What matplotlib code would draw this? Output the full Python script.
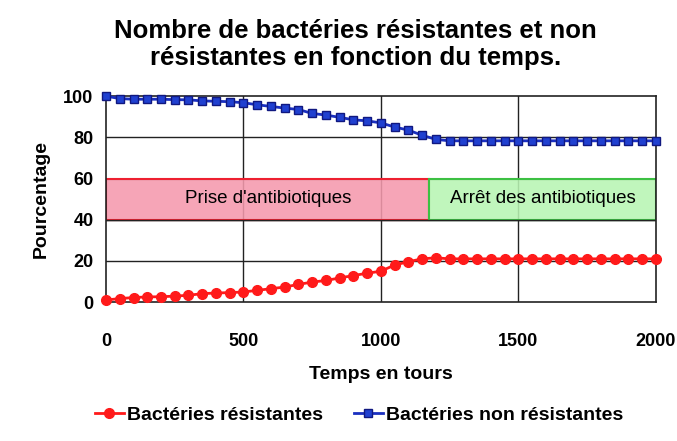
import matplotlib
matplotlib.use("Agg")
import matplotlib.pyplot as plt
from matplotlib.patches import Rectangle

plt.rcParams['font.family'] = ['Liberation Sans', 'DejaVu Sans']

# ---- data ----
temps = list(range(0, 2001, 50))
resistantes = [1, 1.7, 2.2, 2.5, 2.6, 2.9, 3.3, 4.1, 4.4, 4.6, 4.9, 5.7, 6.5, 7.3, 8.6,
               9.7, 10.5, 11.7, 12.9, 14, 15, 18, 19.6, 21, 21.5] + [21] * 16
non_resistantes = [100, 98.8, 98.5, 98.5, 98.5, 98.3, 98.2, 97.7, 97.5, 97.3, 96.8, 95.8,
                   95, 94.2, 93.5, 91.6, 90.8, 89.7, 88.5, 88, 87, 85, 83.5, 81, 79] + [78.3] * 16
phase_labels = ["Prise d'antibiotiques", "Arrêt des antibiotiques"]
phase_bounds = [0, 1175, 2000]
band = (40, 60)
xticks = [0, 500, 1000, 1500, 2000]
yticks = [0, 20, 40, 60, 80, 100]

fig = plt.figure(figsize=(6.77, 4.41), dpi=100)
ax = fig.add_axes([0.1566, 0.315, 0.812, 0.467])
ax.set_xlim(0, 2000)
ax.set_ylim(0, 100)

# grid
for y in yticks[1:-1]:
    ax.axhline(y, color='#222222', lw=1, zorder=1)
for x in xticks[1:-1]:
    ax.axvline(x, color='#222222', lw=1, zorder=1)

# bands (semi-transparent so the grid shows faintly through)
ax.add_patch(Rectangle((phase_bounds[0], band[0]), phase_bounds[1] - phase_bounds[0], band[1] - band[0],
                       facecolor=(0.96, 0.60, 0.68, 0.88), edgecolor='#ee2030', lw=1.5, zorder=2))
ax.add_patch(Rectangle((phase_bounds[1], band[0]), phase_bounds[2] - phase_bounds[1], band[1] - band[0],
                       facecolor=(0.72, 0.96, 0.70, 0.88), edgecolor='#3cc043', lw=1.5, zorder=2))
ax.axhline(band[0], color='#222222', lw=1, zorder=2.5)
ax.text(590, 50.5, phase_labels[0], ha='center', va='center', fontsize=13.5, zorder=5)
ax.text(1590, 50.5, phase_labels[1], ha='center', va='center', fontsize=13.5, zorder=5)

ax.plot(temps, resistantes, color='#ff1a1a', marker='o', markersize=7, lw=2,
        label='Bactéries résistantes', zorder=4, clip_on=False)
ax.plot(temps, non_resistantes, color='#1a2fc0', marker='s', markersize=6, lw=2,
        markerfacecolor='#2040d0', markeredgecolor='#101880',
        label='Bactéries non résistantes', zorder=4, clip_on=False)

for s in ax.spines.values():
    s.set_color('#222222')
    s.set_linewidth(1.2)

ax.set_xticks(xticks)
ax.set_yticks(yticks)
ax.tick_params(length=0, labelsize=13)
ax.tick_params(axis='x', pad=22)
ax.tick_params(axis='y', pad=9)
for lab in ax.get_xticklabels() + ax.get_yticklabels():
    lab.set_fontweight('bold')

ax.set_xlabel('Temps en tours', fontsize=14, fontweight='bold', labelpad=12)
ax.set_ylabel('Pourcentage', fontsize=14, fontweight='bold', labelpad=10)

fig.text(0.525, 0.9, "Nombre de bactéries résistantes et non\nrésistantes en fonction du temps.",
         ha='center', va='center', fontsize=18.5, fontweight='bold', linespacing=1.15)

leg = fig.legend(loc='center', bbox_to_anchor=(0.53, 0.058), ncol=2, frameon=False,
                 prop={'size': 14, 'weight': 'bold'},
                 handlelength=1.5, handletextpad=0.15, columnspacing=1.6)

fig.savefig('out.png', dpi=100)
